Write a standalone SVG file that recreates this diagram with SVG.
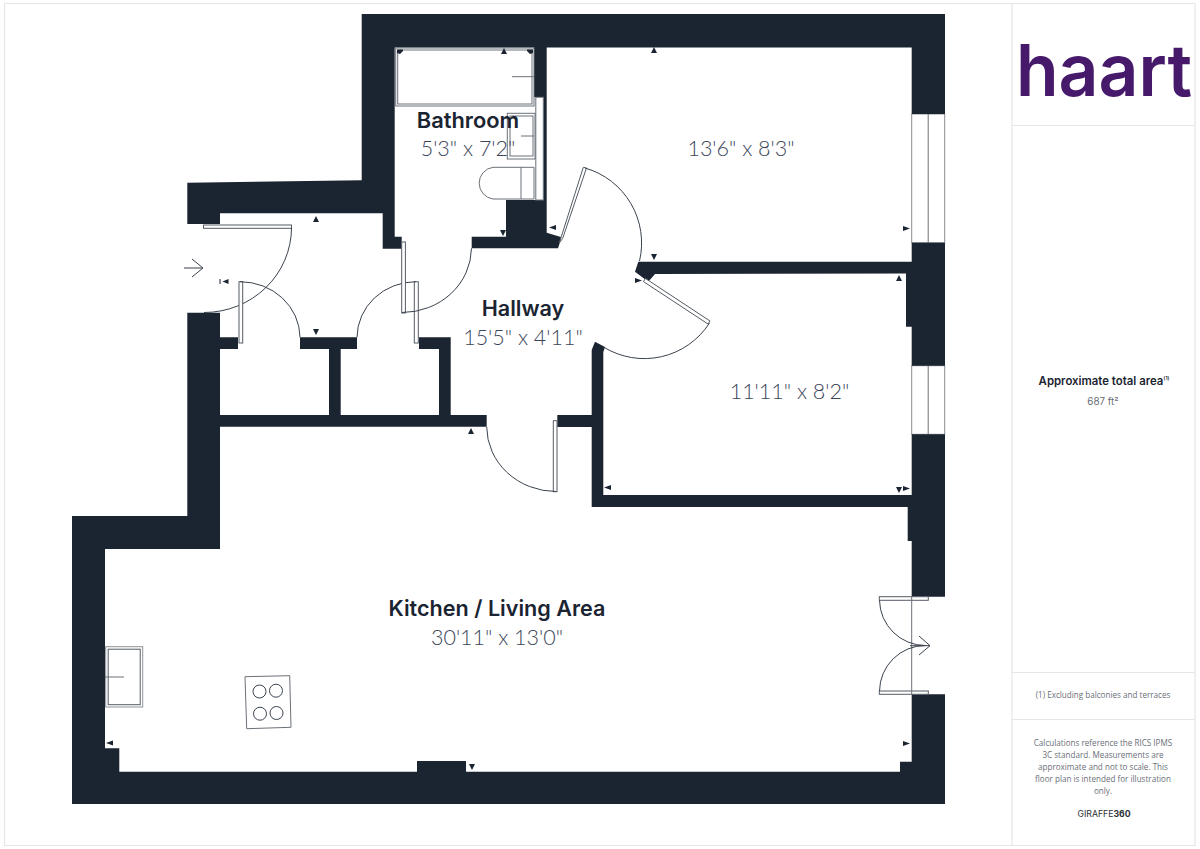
<svg xmlns="http://www.w3.org/2000/svg" width="1200" height="849" viewBox="0 0 1200 849">
<style>
.w{fill:#1b2431;stroke:none}
.panel{fill:#fff;stroke:#555c66;stroke-width:1}
.arc{fill:none;stroke:#3a424d;stroke-width:1}
.fx{fill:#fff;stroke:#6b7178;stroke-width:1}
.ln{fill:none;stroke:#6b7178;stroke-width:1}
.win{fill:#fff;stroke:#8a8d90;stroke-width:1}
.m{fill:#1b2431}
.sb{fill:none;stroke:#e6e6e6;stroke-width:1.2}
.n{font-family:"Inter","Liberation Sans",sans-serif;font-weight:600;fill:#1b2431;text-anchor:middle}
.d{font-family:"Lato","Liberation Sans",sans-serif;font-weight:300;fill:#3c465a;text-anchor:middle}
.s{font-family:"Open Sans","Liberation Sans",sans-serif;font-size:8.100px;fill:#6a6f78;text-anchor:middle}
</style>
<rect width="1200" height="849" fill="#fff"/>
<g id="sidebar">
<path class="sb" d="M4.500 3.500H1195V845.500H4.500ZM1012 3.500V845.500M1012 125.500H1195M1012 672.500H1195M1012 719.500H1195"/>
<text x="1016" y="96" font-family="Inter,'Liberation Sans',sans-serif" font-size="72" font-weight="600" fill="#47196b" textLength="176" lengthAdjust="spacingAndGlyphs">haart</text>
<text x="1101" y="385" font-family="Inter,'Liberation Sans',sans-serif" font-size="11.400" font-weight="600" fill="#1b2431" text-anchor="middle">Approximate total area</text>
<text x="1166.500" y="380" font-family="Inter,'Liberation Sans',sans-serif" font-size="5" font-weight="600" fill="#1b2431" text-anchor="middle">(1)</text>
<text x="1103" y="404.500" font-family="Inter,'Liberation Sans',sans-serif" font-size="9.800" fill="#666c75" text-anchor="middle">687 ft²</text>
<text class="s" x="1103" y="698">(1) Excluding balconies and terraces</text>
<text class="s" x="1103" y="746">Calculations reference the RICS IPMS</text>
<text class="s" x="1103" y="758">3C standard. Measurements are</text>
<text class="s" x="1103" y="770">approximate and not to scale. This</text>
<text class="s" x="1103" y="782">floor plan is intended for illustration</text>
<text class="s" x="1103" y="794">only.</text>
<text x="1104" y="817" font-family="Inter,'Liberation Sans',sans-serif" font-size="8.700" fill="#2a2f36" text-anchor="middle">GIRAFFE<tspan font-weight="700">360</tspan></text>
</g>
<g id="windows">
<rect class="win" x="911.700" y="114" width="33" height="128.700"/>
<path class="ln" stroke-width="1.200" d="M928.200 114V242.700"/>
<rect class="win" x="911.700" y="365.700" width="33" height="68.600"/>
<path class="ln" stroke-width="1.200" d="M928.200 365.700V434.300"/>
</g>
<g id="walls">
<polygon class="w" points="187.300,182.700 361.700,180.300 361.700,14 945,14 945,114 911.700,114 911.700,47.500 546.700,47.500 546.700,232.700 561.700,237.300 558,248.300 471.700,248.300 471.700,236.700 506,236.700 506,200 543.300,200 543.300,97 534,97 534,47.500 394.700,47.500 394.700,236.700 401.700,236.700 401.700,248.700 382.700,248.700 382.700,213.300 220,213.300 220,224 187.300,224"/>
<polygon class="w" points="638.300,261.700 911.700,261.700 911.700,242.700 945,242.700 945,365.700 911.700,365.700 911.700,326.700 906,326.700 906,273.600 655,274 648.300,281.700 635,271.700"/>
<polygon class="w" points="595,341.700 605,347 603.300,352 603.300,495 911.700,495 911.700,434.300 945,434.300 945,596.700 911.700,596.700 911.700,541 907.700,541 907.700,507 591.700,507 591.700,427 557.300,427 557.300,415 591.700,415 591.700,350"/>
<polygon class="w" points="72,516 187.300,516 187.300,312.700 220,312.700 220,337.300 238,337.300 238,349 220,349 220,415 329,415 329,349 300,349 300,337.300 357,337.300 357,349 340.700,349 340.700,415 439,415 439,349 419,349 419,337.300 450.700,337.300 450.700,415 486.700,415 486.700,426.700 220,426.700 220,549 105,549 105,748.300 119.300,748.300 119.300,771.700 417,771.700 417,761 466,761 466,771.700 900,771.700 900,761.700 911.700,761.700 911.700,694.300 945,694.300 945,804 72,804"/>
</g>
<g id="fixtures">
<rect class="fx" x="535.800" y="97.300" width="7.500" height="102.700" stroke="#d8d8d8"/>
<rect class="fx" x="395.700" y="48" width="138.300" height="58"/>
<rect class="ln" x="397.700" y="50" width="134.300" height="54"/>
<path class="ln" d="M512 76.700H534"/>
<rect class="fx" x="507.300" y="113.300" width="27.700" height="45.700"/>
<rect class="ln" x="510" y="116" width="23" height="40"/>
<path class="ln" d="M521 136H534"/>
<path class="fx" d="M534 167.300H493A16 16 0 0 0 493 199H534ZM521 167.300V199"/>
<rect x="105.700" y="646.700" width="37" height="60.300" fill="#fff" stroke="#8e9196"/>
<rect x="108.200" y="649.200" width="32" height="55.500" fill="#fff" stroke="#555c66"/>
<path class="ln" d="M105 677H124"/>
<polygon class="fx" stroke="#4a5058" points="245,676.700 289.700,675.700 291,727.300 246.700,728.700"/>
<g class="arc"><circle cx="259.500" cy="691.500" r="6.500"/><circle cx="276" cy="690.700" r="6.500"/><circle cx="260" cy="713.700" r="6.500"/><circle cx="276.500" cy="713" r="6.500"/></g>
</g>
<g id="doors">
<rect class="panel" x="203.500" y="225" width="88" height="3.300"/>
<path class="arc" d="M291.500 228A87.500 85 0 0 1 204 312.500"/>
<path class="arc" d="M184 268H203M192 259L203 268L192 277"/>
<rect class="panel" x="239" y="281.700" width="3.700" height="61.300"/>
<path class="arc" d="M240 281.700A60 56 0 0 1 300 337.300"/>
<rect class="panel" x="414.300" y="281.700" width="4" height="61.300"/>
<path class="arc" d="M416 281.700A59 56 0 0 0 357 337.300"/>
<rect class="panel" x="401.700" y="242" width="3.700" height="71"/>
<path class="arc" d="M402 312.500A69.500 65 0 0 0 471.500 248.300"/>
<rect class="panel" x="553.300" y="420.700" width="3.700" height="71"/>
<path class="arc" d="M556 491.500A69.500 65 0 0 1 486.700 427"/>
<polygon class="panel" points="559.300,243 583.300,167.300 586.500,168 562.700,238.300"/>
<path class="arc" d="M585 168A78 78 0 0 1 639.500 261"/>
<polygon class="panel" points="643.300,281.500 645.500,278.500 710,321 708,324"/>
<path class="arc" d="M709.500 323A77.500 77.500 0 0 1 603.500 347"/>
<rect class="panel" x="879.300" y="596.700" width="49" height="3.600"/>
<rect class="panel" x="879.300" y="691" width="49" height="3.300"/>
<path class="ln" d="M911.700 596.700V694.300"/>
<path class="arc" d="M879.500 600.300A46 46 0 0 0 925.500 645.500M879.500 691A46 46 0 0 1 925.500 645.500"/>
<path class="arc" stroke-width="1.200" d="M910 645.700H930M919 636L930 645.700L919 655"/>
</g>
<g id="markers" class="m">
<path d="M313 222l3-6 3 6zM651 53l3-6 3 6zM896 281l3-6 3 6zM468 434l3-6 3 6zM501 54l3-6 3 6z"/>
<path d="M313 329l3 6 3-6zM500 230l3 6 3-6zM651 254l3 6 3-6zM896 487l3 6 3-6zM469 764l3 6 3-6z"/>
<path d="M903 226l7 2.500-7 2.500zM903 486l7 2.500-7 2.500zM903 741l7 2.500-7 2.500zM635 278l7 2.500-7 2.500z"/>
<path d="M556 225l-7 2.500 7 2.500zM611 485l-7 2.500 7 2.500zM113 740.500l-7 2.500 7 2.500z"/>
<path d="M228.500 279l-6 2.500 6 2.500zM219.500 279h1v5h-1zM397 49.500h6v1.500l-3 3-3-1zM533 49.500h-6v1.500l3 3 3-1z"/>
</g>
<g id="labels">
<text class="n" x="468" y="128" font-size="21.800">Bathroom</text>
<text class="d" x="468" y="156" font-size="21.500">5'3" x 7'2"</text>
<text class="d" x="741" y="156" font-size="21.500">13'6" x 8'3"</text>
<text class="n" x="523" y="316" font-size="21.600">Hallway</text>
<text class="d" x="523" y="345" font-size="21.500">15'5" x 4'11"</text>
<text class="d" x="789.500" y="399" font-size="21.500">11'11" x 8'2"</text>
<text class="n" x="497" y="616" font-size="21.600">Kitchen / Living Area</text>
<text class="d" x="497" y="645" font-size="21.500">30'11" x 13'0"</text>
</g>
</svg>
